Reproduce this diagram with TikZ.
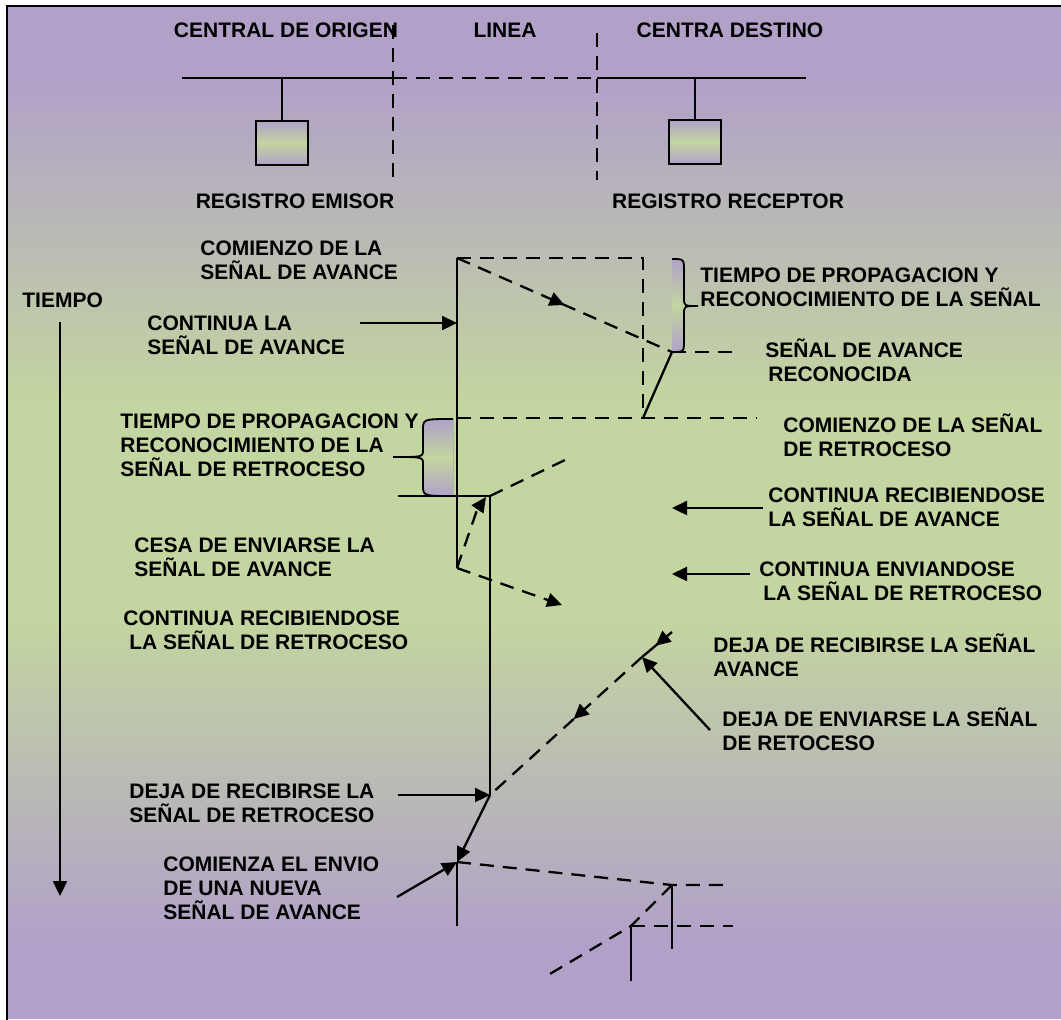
\documentclass[tikz,border=0pt]{standalone}
\usepackage{fontspec}
\setmainfont{Liberation Sans}
\usetikzlibrary{arrows.meta,decorations.markings}

\definecolor{bgpurple}{RGB}{177,161,200}
\definecolor{bggreen}{RGB}{195,213,160}

\tikzset{
  sig/.style={line width=1.15pt},
  dsig/.style={line width=1.15pt, dash pattern=on 7pt off 4.5pt},
  lbl/.style={font=\bfseries\fontsize{10.5}{12}\selectfont, align=left, inner sep=0pt, anchor=west},
  ttl/.style={lbl, anchor=center},
  midarrow/.style={postaction={decorate, decoration={markings, mark=at position #1 with {\arrow{>}}}}},
  regbox/.style={draw, line width=0.9pt, minimum width=26pt, minimum height=22pt, inner sep=0pt,
                 top color=bgpurple, bottom color=bgpurple, middle color=bggreen},
  bracefill/.style={top color=bgpurple, bottom color=bgpurple, middle color=bggreen}
}

\begin{document}
\begin{tikzpicture}[x=0.5pt, y=-0.5pt, >={Triangle[length=7.5pt,width=7pt]}]
\useasboundingbox (0,0) rectangle (1061,1019);
\clip (0,0) rectangle (1061,1019);

% background, purple - green - purple
\fill[bgpurple] (7,6) rectangle (1061,81);
\shade[top color=bgpurple, bottom color=bggreen] (7,80) rectangle (1061,401);
\fill[bggreen] (7,400) rectangle (1061,621);
\shade[top color=bggreen, bottom color=bgpurple] (7,620) rectangle (1061,941);
\fill[bgpurple] (7,940) rectangle (1061,1019);
\draw[line width=1.3pt] (7,6) rectangle (1075,1035);

% exchanges and line
\node[ttl] (corig) at (286,30) {CENTRAL DE ORIGEN};
\node[ttl] (linea) at (505,30) {LINEA};
\node[ttl] (cdest) at (730,30) {CENTRA DESTINO};

\coordinate (bl) at (182,78);  \coordinate (bm1) at (393,78);
\coordinate (bm2) at (597,78); \coordinate (br) at (806,78);
\draw[sig] (bl) -- (bm1);
\draw[dsig] (bm1) -- (bm2);
\draw[sig] (bm2) -- (br);
\draw[dsig] (393,25) -- (393,180);
\draw[dsig] (597,33) -- (597,180);

\node[regbox] (remisor) at (282,143) {};
\node[regbox] (rrecep) at (695,142) {};
\draw[sig] (remisor.north) -- (remisor.north |- bl);
\draw[sig] (rrecep.north) -- (rrecep.north |- br);
\node[ttl] (lemisor) at (295,201) {REGISTRO EMISOR};
\node[ttl] (lrecep) at (728,201) {REGISTRO RECEPTOR};

% time axis
\node[lbl] (tiempo) at (22,300) {TIEMPO};
\coordinate (t0) at (60,322); \coordinate (t1) at (60,896);
\draw[sig,->] (t0) -- (t1);

% advance signal
\coordinate (a0) at (457,258);
\coordinate (a1) at (643,258);
\coordinate (a2) at (643,418);
\coordinate (r0) at (672,352);
\coordinate (c0) at (457,568);
\draw[sig] (a0) -- (c0);
\draw[dsig] (a0) -- (a1) -- (a2);
\draw[dsig, midarrow=0.5] (a0) -- (r0);
\draw[dsig] (r0) -- (735,352);
\draw[sig] (r0) -- (a2);

\fill[bracefill] (672,259) .. controls (684,259) .. (684,271) -- (684,298)
  .. controls (684,306) .. (698,306) .. controls (684,306) .. (684,314) -- (684,340)
  .. controls (684,352) .. (672,352) -- cycle;
\draw[line width=0.9pt] (672,259) .. controls (684,259) .. (684,271) -- (684,298)
  .. controls (684,306) .. (698,306) .. controls (684,306) .. (684,314) -- (684,340)
  .. controls (684,352) .. (672,352);

% backward signal
\coordinate (s0) at (457,418);
\coordinate (s1) at (757,418);
\coordinate (p0) at (490,496);
\coordinate (p1) at (490,795);
\draw[dsig] (s0) -- (s1);
\fill[bracefill] (453,419) .. controls (423,419) .. (423,430) -- (423,450)
  .. controls (423,457) .. (393,457) .. controls (423,457) .. (423,464) -- (423,485)
  .. controls (423,496) .. (453,496) -- cycle;
\draw[line width=0.9pt] (453,419) .. controls (423,419) .. (423,430) -- (423,450)
  .. controls (423,457) .. (393,457) .. controls (423,457) .. (423,464) -- (423,485)
  .. controls (423,496) .. (453,496);
\draw[sig] (398,496) -- (p0) -- (p1);
\draw[dsig,->] (c0) -- (477,510) -- (486,497);
\draw[dsig] (p0) -- (565,460);
\draw[dsig,->] (c0) -- (562,605);

\coordinate (k0) at (763,508); \coordinate (k1) at (672,508);
\coordinate (k2) at (750,574); \coordinate (k3) at (672,574);
\draw[sig,->] (k0) -- (k1);
\draw[sig,->] (k2) -- (k3);
\coordinate (k4) at (360,323); \coordinate (k5) at (457,323);
\draw[sig,->] (k4) -- (k5);

% end of both signals
\coordinate (e0) at (642,657);
\coordinate (e1) at (672,632);
\coordinate (e2) at (710,730);
\draw[sig, midarrow=0.55] (e1) -- (e0);
\draw[dsig, midarrow=0.45] (e0) -- (p1);
\draw[sig,->] (e2) -- (e0);
\coordinate (k6) at (398,795);
\draw[sig,->] (k6) -- (p1);

% next advance signal
\coordinate (n0) at (457,862);
\coordinate (n1) at (672,885);
\coordinate (n2) at (631,926);
\coordinate (k7) at (397,897);
\draw[sig,->] (p1) -- (n0);
\draw[sig,->] (k7) -- (n0);
\draw[sig] (n0) -- (457,926);
\draw[dsig] (n0) -- (n1) -- (730,885);
\draw[sig] (n1) -- (672,949);
\draw[dsig] (n1) -- (n2) -- (543,978);
\draw[sig] (n2) -- (631,981);
\draw[dsig] (n2) -- (733,926);

% labels
\node[lbl] (lcom) at (200,260) {COMIENZO DE LA\\SEÑAL DE AVANCE};
\node[lbl] (lcont) at (147,335) {CONTINUA LA\\SEÑAL DE AVANCE};
\node[lbl] (lprop) at (700,287) {TIEMPO DE PROPAGACION Y\\RECONOCIMIENTO DE LA SEÑAL};
\node[lbl] (lrec) at (765,360) {SEÑAL DE AVANCE\\\hspace*{1.5pt}RECONOCIDA};
\node[lbl] (lret) at (783,435) {COMIENZO DE LA SEÑAL\\DE RETROCESO};
\node[lbl] (lpropr) at (120,445) {TIEMPO DE PROPAGACION Y\\RECONOCIMIENTO DE LA\\SEÑAL DE RETROCESO};
\node[lbl] (lrecav) at (768,507) {CONTINUA RECIBIENDOSE\\LA SEÑAL DE AVANCE};
\node[lbl] (lcesa) at (134,557) {CESA DE ENVIARSE LA\\SEÑAL DE AVANCE};
\node[lbl] (lenvr) at (759,581) {CONTINUA ENVIANDOSE\\\hspace*{2pt}LA SEÑAL DE RETROCESO};
\node[lbl] (lrecr) at (123,630) {CONTINUA RECIBIENDOSE\\\hspace*{3pt}LA SEÑAL DE RETROCESO};
\node[lbl] (ldejav) at (713,655) {DEJA DE RECIBIRSE LA SEÑAL\\AVANCE};
\node[lbl] (ldejr) at (722,729) {DEJA DE ENVIARSE LA SEÑAL\\DE RETOCESO};
\node[lbl] (ldejrr) at (129,803) {DEJA DE RECIBIRSE LA\\SEÑAL DE RETROCESO};
\node[lbl] (lnueva) at (163,888) {COMIENZA EL ENVIO\\DE UNA NUEVA\\SEÑAL DE AVANCE};
\end{tikzpicture}
\end{document}
